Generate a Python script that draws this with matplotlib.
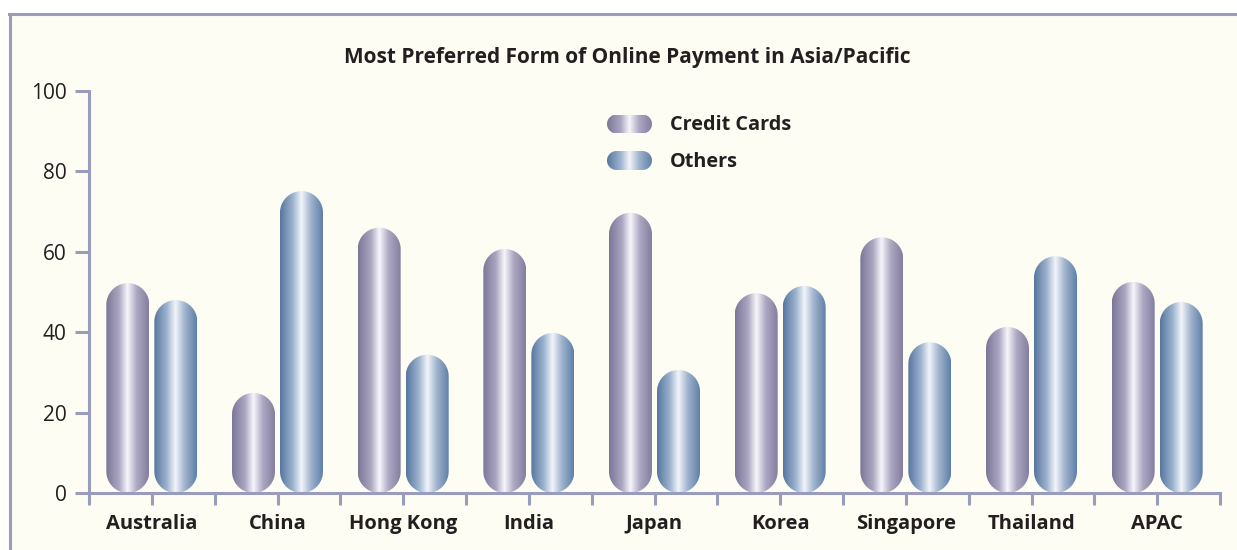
import numpy as np
import matplotlib
matplotlib.use('Agg')
import matplotlib.pyplot as plt
from matplotlib.patches import PathPatch, Rectangle
from matplotlib.path import Path
from matplotlib.colors import LinearSegmentedColormap
from matplotlib.lines import Line2D

# data
countries = ['Australia', 'China', 'Hong Kong', 'India', 'Japan',
             'Korea', 'Singapore', 'Thailand', 'APAC']
credit_cards = [52.2, 24.9, 66.0, 60.7, 69.7, 49.7, 63.6, 41.3, 52.5]
others = [48.0, 75.1, 34.4, 39.8, 30.6, 51.5, 37.5, 58.9, 47.5]
series_names = ['Credit Cards', 'Others']
yticks = [0, 20, 40, 60, 80, 100]

plt.rcParams['font.family'] = ['Open Sans', 'DejaVu Sans']

W, H = 1237, 550
cream = '#fdfdf4'
line_col = '#9a9cbd'
text_col = '#231f20'

cmap_cc = LinearSegmentedColormap.from_list(
    'cc', [(0, '#7b7698'), (0.3, '#aaa6c0'), (0.5, '#f6f6fb'), (0.72, '#aca7c1'), (1, '#847e9f')])
cmap_ot = LinearSegmentedColormap.from_list(
    'ot', [(0, '#56769f'), (0.3, '#9db3cf'), (0.5, '#f2f5fa'), (0.72, '#9fb3cd'), (1, '#5f7fa7')])
grad = np.linspace(0, 1, 256).reshape(1, -1)


def rounded_path(x0, y0, w, h, rx, ry):
    # rounded rectangle in data units, corner radii rx (x units), ry (y units)
    t = np.linspace(0, np.pi / 2, 20)
    corners = [(x0 + w - rx, y0 + h - ry, 0), (x0 + rx, y0 + h - ry, np.pi / 2),
               (x0 + rx, y0 + ry, np.pi), (x0 + w - rx, y0 + ry, 1.5 * np.pi)]
    pts = []
    for cx, cy, a in corners:
        pts += list(zip(cx + rx * np.cos(t + a), cy + ry * np.sin(t + a)))
    pts.append(pts[0])
    return Path(pts, closed=True)


def capsule(ax, x0, y0, w, h, cmap, r_px, sx, sy):
    # gradient image clipped to a rounded box; sx, sy are pixels per data unit
    path = rounded_path(x0, y0, w, h, r_px / sx, r_px / sy)
    patch = PathPatch(path, fc='none', ec='none', transform=ax.transData)
    ax.add_patch(patch)
    im = ax.imshow(grad, cmap=cmap, extent=(x0, x0 + w, y0, y0 + h),
                   aspect='auto', interpolation='bilinear', zorder=2)
    im.set_clip_path(patch)


fig = plt.figure(figsize=(W / 100, H / 100), dpi=100)
fig.patch.set_facecolor('white')
top = 1 - 14 / H
left = 10 / W
fig.add_artist(Rectangle((left, 0), 1 - left, top, transform=fig.transFigure,
                         facecolor=cream, edgecolor='none', zorder=0))
fig.add_artist(Line2D([left - 1.5 / W, 1], [top, top], transform=fig.transFigure,
                      color=line_col, lw=2.2))
fig.add_artist(Line2D([left, left], [0, top], transform=fig.transFigure,
                      color=line_col, lw=2.2))

ax_l, ax_b, ax_w, ax_h = 89, 57, 1131, 402
ax = fig.add_axes([ax_l / W, ax_b / H, ax_w / W, ax_h / H])
ax.set_facecolor('none')

sx = ax_w / 9.0
sy = ax_h / 100.0
bw = 43 / sx
off = 24 / sx
for i in range(len(countries)):
    capsule(ax, i - off - bw / 2, 0, bw, credit_cards[i], cmap_cc, 21.5, sx, sy)
    capsule(ax, i + off - bw / 2, 0, bw, others[i], cmap_ot, 21.5, sx, sy)

ax.set_xlim(-0.5, 8.5)
ax.set_ylim(0, 100)

for s in ['top', 'right']:
    ax.spines[s].set_visible(False)
for s in ['left', 'bottom']:
    ax.spines[s].set_color(line_col)
    ax.spines[s].set_linewidth(2.2)

ax.set_xticks(range(len(countries)))
ax.set_xticklabels(countries, fontsize=14.5, fontweight='bold', color=text_col)
ax.set_xticks(np.arange(-0.5, 9, 1), minor=True)
ax.tick_params(axis='x', which='both', length=8.6, width=2.2, color=line_col,
               direction='out', pad=6.5)
ax.set_yticks(yticks)
ax.set_yticklabels([str(v) for v in yticks], fontsize=15, color=text_col)
ax.tick_params(axis='y', length=10, width=2.2, color=line_col, direction='out', pad=6)

fig.text(627 / W, 1 - 57 / H, 'Most Preferred Form of Online Payment in Asia/Pacific',
         ha='center', va='center', fontsize=15, fontweight='bold', color=text_col)

# legend, drawn by hand so the swatches keep the capsule look
for k, (name, cmap) in enumerate(zip(series_names, [cmap_cc, cmap_ot])):
    yc = 124 + 36.5 * k
    lax = fig.add_axes([607 / W, 1 - (yc + 9.5) / H, 45 / W, 19 / H])
    lax.set_axis_off()
    capsule(lax, 0, 0, 1, 1, cmap, 9.5, 45.0, 19.0)
    lax.set_xlim(0, 1)
    lax.set_ylim(0, 1)
    fig.text(670 / W, 1 - (yc + 1.5) / H, name, ha='left', va='center',
             fontsize=14.3, fontweight='bold', color=text_col)

fig.savefig('out.png', dpi=100)
